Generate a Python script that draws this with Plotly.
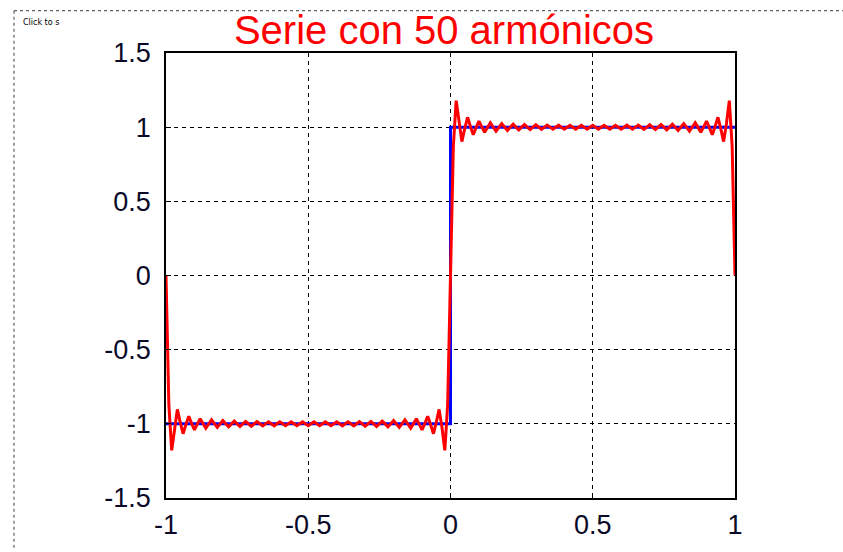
import numpy as np
import plotly.graph_objects as go

# ---- data ----
title_text = "Serie con 50 armónicos"
# odd-harmonic orders (n = 1..50 -> odd ones carry energy) and their sine amplitudes
harmonic_orders = [1, 3, 5, 7, 9, 11, 13, 15, 17, 19, 21, 23, 25,
                   27, 29, 31, 33, 35, 37, 39, 41, 43, 45, 47, 49]
harmonic_amps = [1.2732, 0.4244, 0.2546, 0.1819, 0.1415, 0.1157, 0.0979,
                 0.0849, 0.0749, 0.0670, 0.0606, 0.0554, 0.0509, 0.0472,
                 0.0439, 0.0411, 0.0386, 0.0364, 0.0344, 0.0326, 0.0311,
                 0.0296, 0.0283, 0.0271, 0.0260]
# ideal square wave
square_x = [-1, 0, 0, 1]
square_y = [-1, -1, 1, 1]
# sampling grid of the plotted series (step 0.01)
x_start, x_end, x_step = -1.0, 1.0, 0.01
# ticks
x_ticks = [-1, -0.5, 0, 0.5, 1]
x_tick_labels = ["-1", "-0.5", "0", "0.5", "1"]
y_ticks = [-1.5, -1, -0.5, 0, 0.5, 1, 1.5]
y_tick_labels = ["-1.5", "-1", "-0.5", "0", "0.5", "1", "1.5"]

# ---- partial Fourier sum ----
n_pts = int(round((x_end - x_start) / x_step)) + 1
xs = np.linspace(x_start, x_end, n_pts)
ys = np.zeros_like(xs)
for n, b in zip(harmonic_orders, harmonic_amps):
    ys += b * np.sin(n * np.pi * xs)

fig = go.Figure()
fig.add_trace(go.Scatter(x=square_x, y=square_y, mode="lines",
                         line=dict(color="#0000FF", width=3),
                         hoverinfo="skip", showlegend=False))
fig.add_trace(go.Scatter(x=xs, y=ys, mode="lines",
                         line=dict(color="#FF0000", width=3),
                         showlegend=False))

axis_font = dict(family="Liberation Sans, Arial, sans-serif", size=27, color="#0a0a28")
fig.update_xaxes(range=[-1, 1], tickvals=x_ticks, ticktext=x_tick_labels,
                 showline=True, linecolor="black", linewidth=1.5, mirror=True,
                 showgrid=True, gridcolor="black", gridwidth=1, griddash="4px,4px",
                 zeroline=False, ticks="inside", ticklen=5, tickcolor="black",
                 tickfont=axis_font, ticklabelstandoff=2)
fig.update_yaxes(range=[-1.5, 1.5], tickvals=y_ticks, ticktext=y_tick_labels,
                 showline=True, linecolor="black", linewidth=1.5, mirror=True,
                 showgrid=True, gridcolor="black", gridwidth=1, griddash="4px,4px",
                 zeroline=False, ticks="inside", ticklen=5, tickcolor="black",
                 tickfont=axis_font, ticklabelstandoff=8)

# outer dotted frame (figure border: top and left edges visible)
border = dict(color="#606060", width=1.2, dash="dot")
fig.add_shape(type="line", xref="paper", yref="paper",
              x0=(14 - 166) / 569, x1=(843 - 166) / 569,
              y0=(500 - 10.5) / 447, y1=(500 - 10.5) / 447, line=border)
fig.add_shape(type="line", xref="paper", yref="paper",
              x0=(14 - 166) / 569, x1=(14 - 166) / 569,
              y0=(500 - 10.5) / 447, y1=(500 - 552) / 447, line=border)

fig.add_annotation(text="Click to s", xref="paper", yref="paper",
                   x=(21 - 166) / 569, y=(500 - 22) / 447,
                   xanchor="left", yanchor="middle", showarrow=False,
                   font=dict(family="DejaVu Sans, sans-serif", size=8, color="black"))

fig.update_layout(
    width=843, height=552,
    margin=dict(l=166, r=108, t=53, b=52),
    paper_bgcolor="white", plot_bgcolor="white",
    title=dict(text=title_text, x=(444) / 843, xanchor="center",
               y=1 - 30 / 552, yanchor="middle",
               font=dict(family="Liberation Sans, Arial, sans-serif", size=40, color="#FF0000")),
)

fig.write_html("out.html")
